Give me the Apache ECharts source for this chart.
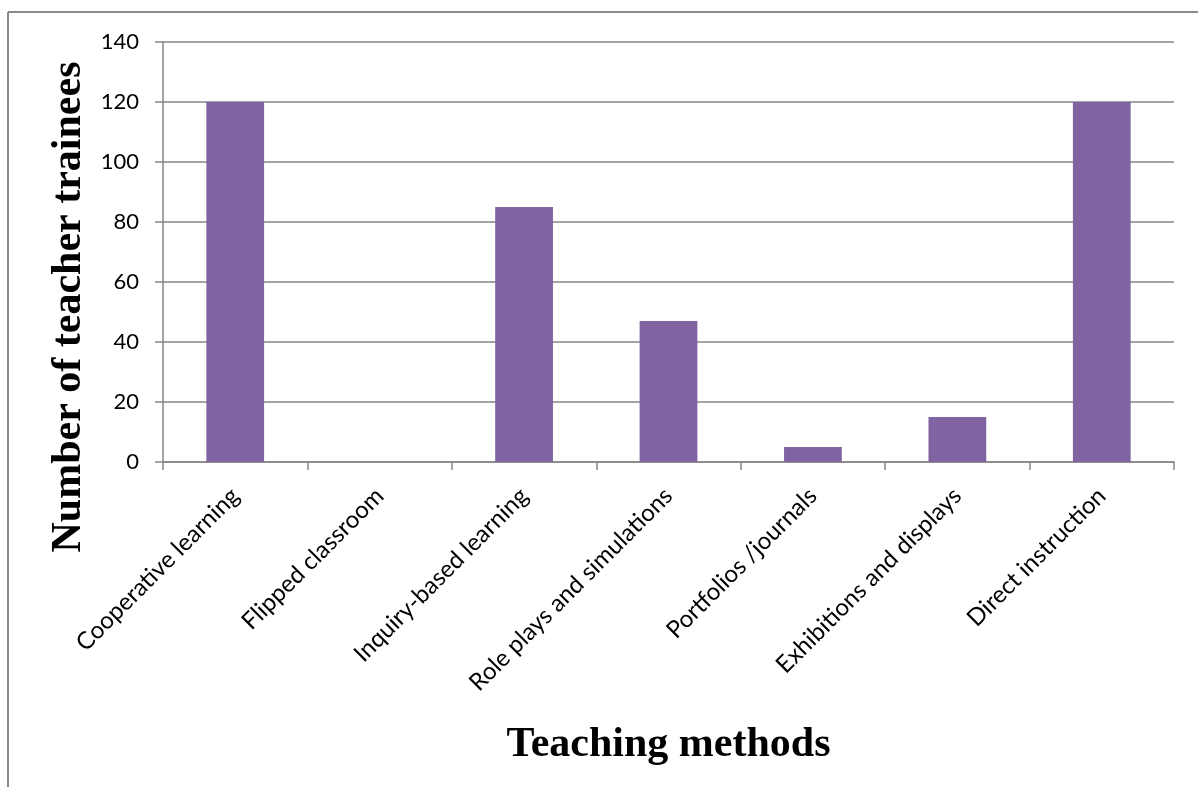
<!DOCTYPE html>
<html><head><meta charset="utf-8">
<script src="https://cdn.jsdelivr.net/npm/echarts@6/dist/echarts.min.js"></script>
<style>html,body{margin:0;padding:0;background:#fff}#c{width:1198px;height:787px}</style>
</head><body><div id="c"></div>
<script>
const categories = ["Cooperative learning","Flipped classroom","Inquiry-based learning","Role plays and simulations","Portfolios /journals","Exhibitions and displays","Direct instruction"];
const values = [120, 0, 85, 47, 5, 15, 120];
const yTicks = {min: 0, max: 140, interval: 20};
const xTitle = "Teaching methods";
const yTitle = "Number of teacher trainees";

const chart = echarts.init(document.getElementById('c'), null, {renderer: 'canvas'});
chart.setOption({
  animation: false,
  backgroundColor: '#fff',
  graphic: [
    {type: 'line', shape: {x1: 8, y1: 12, x2: 1198, y2: 12}, style: {stroke: '#8a8a8a', lineWidth: 2}},
    {type: 'line', shape: {x1: 8, y1: 12, x2: 8, y2: 787}, style: {stroke: '#8a8a8a', lineWidth: 2}}
  ],
  grid: {left: 163, right: 24, top: 42, bottom: 325},
  xAxis: {
    type: 'category', data: categories,
    name: xTitle, nameLocation: 'middle', nameGap: 262,
    nameTextStyle: {fontFamily: 'Liberation Serif', fontWeight: 'bold', fontSize: 42, color: '#000'},
    axisLine: {lineStyle: {color: '#868686', width: 1.5}},
    axisTick: {show: true, length: 8, alignWithLabel: false, lineStyle: {color: '#868686', width: 1.5}},
    axisLabel: {rotate: 45, interval: 0, fontFamily: 'Lato', fontSize: 24, color: '#000', margin: 30}
  },
  yAxis: {
    type: 'value', min: yTicks.min, max: yTicks.max, interval: yTicks.interval,
    name: yTitle, nameLocation: 'middle', nameGap: 72,
    nameTextStyle: {fontFamily: 'Liberation Serif', fontWeight: 'bold', fontSize: 42, color: '#000', padding: [0, 110, 0, 0]},
    axisLine: {show: true, lineStyle: {color: '#868686', width: 1.5}},
    axisTick: {show: true, length: 8, lineStyle: {color: '#868686', width: 1.5}},
    splitLine: {lineStyle: {color: '#868686', width: 1.5}},
    axisLabel: {fontFamily: 'Lato', fontSize: 22, color: '#000', margin: 24}
  },
  series: [{
    type: 'bar', data: values, barCategoryGap: '60%',
    itemStyle: {color: '#8064a2'}
  }]
});
</script></body></html>
